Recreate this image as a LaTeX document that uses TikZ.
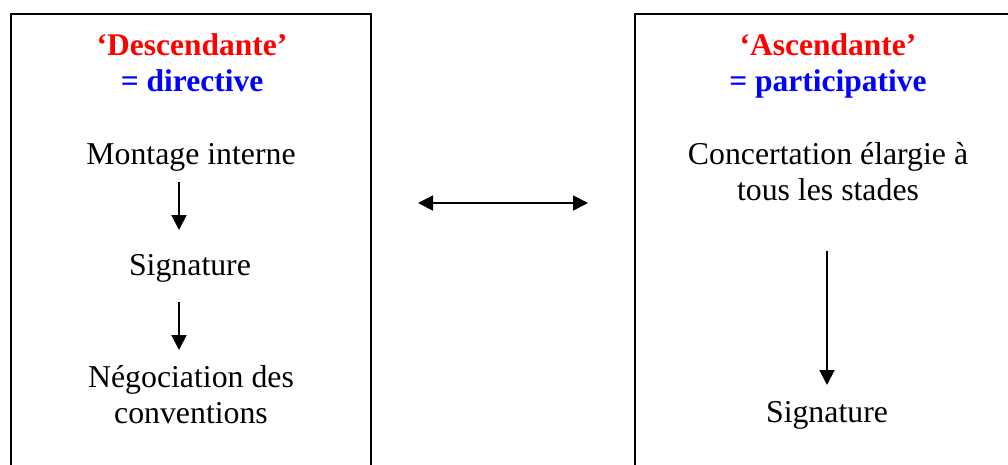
\documentclass[tikz,border=0pt]{standalone}
\usepackage{fontspec}
\setmainfont{Liberation Serif}
\usetikzlibrary{arrows.meta}
\definecolor{hdred}{RGB}{255,0,0}
\definecolor{hdblue}{RGB}{0,0,255}
\begin{document}
\begin{tikzpicture}[x=1pt,y=-1pt,
  txt/.style={font=\fontsize{31.8}{35.5}\selectfont, align=center, anchor=base, inner sep=0pt},
  hd/.style={font=\fontsize{31.5}{35}\selectfont\bfseries, align=center, anchor=base, inner sep=0pt},
  frame/.style={line width=1.8pt},
  arr/.style={line width=1.8pt, -{Triangle[length=15pt,width=15pt]}},
  darr/.style={line width=1.8pt, {Triangle[length=15pt,width=15pt]}-{Triangle[length=15pt,width=15pt]}}]
\useasboundingbox (0,0) rectangle (1008,464);
\clip (0,0) rectangle (1008,464);
\draw[frame] (11,14) rectangle (371,490);
\draw[frame] (635,14) rectangle (1030,490);
% left box
\node[hd] (lh1) at (192,55) {\textcolor{hdred}{‘Descendante’}};
\node[hd] (lh2) at (192,91) {\textcolor{hdblue}{= directive}};
\node[txt] (mont) at (191,164) {Montage interne};
\node[txt] (sig1) at (190,275) {Signature};
\node[txt] (nego) at (191,423) {Négociation des\\conventions};
% right box
\node[hd] (rh1) at (828,55) {\textcolor{hdred}{‘Ascendante’}};
\node[hd] (rh2) at (828,91) {\textcolor{hdblue}{= participative}};
\node[txt] (conc) at (828,200) {Concertation élargie à\\tous les stades};
\node[txt] (sig2) at (827,422) {Signature};
% connectors
\coordinate (a1s) at (179,182);
\coordinate (a1e) at (179,230);
\coordinate (a2s) at (179,302);
\coordinate (a2e) at (179,350);
\coordinate (a3s) at (827,251);
\coordinate (a3e) at (827,385);
\coordinate (dl) at (418,203);
\coordinate (dr) at (588,203);
\draw[arr] (a1s) -- (a1e);
\draw[arr] (a2s) -- (a2e);
\draw[arr] (a3s) -- (a3e);
\draw[darr] (dl) -- (dr);
\end{tikzpicture}
\end{document}
